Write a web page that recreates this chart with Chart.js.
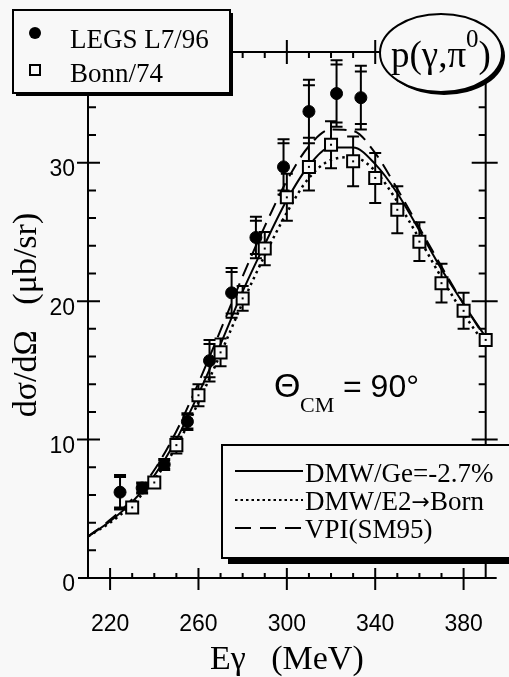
<!DOCTYPE html>
<html>
<head>
<meta charset="utf-8">
<script src="https://cdn.jsdelivr.net/npm/chart.js@4.4.1/dist/chart.umd.min.js"></script>
<style>
  html, body { margin: 0; padding: 0; background: #f8f8f8; }
  canvas { display: block; }
</style>
</head>
<body>
<canvas id="myChart" width="509" height="677"></canvas>
<script>
// data
const legsE = [224.5, 234.5, 244.5, 255, 265, 275, 286, 298.5, 310, 322.5, 333.5];
const legsY = [6.2, 6.5, 8.2, 11.3, 15.7, 20.6, 24.6, 29.7, 33.7, 35.0, 34.7];
const legsErrTot = [1.25, 0.4, 0.4, 0.6, 1.5, 1.8, 1.5, 2.0, 2.3, 2.4, 2.3];
const legsErrStat = [1.1, 0.3, 0.3, 0.5, 1.2, 1.5, 1.2, 1.7, 1.9, 2.1, 1.9];

const bonnE = [230, 240, 250, 260, 270, 280, 290, 300, 310, 320, 330, 340, 350, 360, 370, 380, 390];
const bonnY = [5.1, 6.9, 9.6, 13.2, 16.3, 20.2, 23.8, 27.5, 29.7, 31.3, 30.1, 28.9, 26.6, 24.3, 21.3, 19.3, 17.2];
const bonnErr = [0.3, 0.3, 0.6, 0.8, 1.0, 0.9, 1.2, 1.7, 1.7, 1.7, 1.8, 1.8, 1.7, 1.4, 1.4, 1.3, 0.4];

const curveE = [210, 220, 230, 240, 250, 260, 270, 280, 290, 300, 310, 320, 330, 340, 350, 360, 370, 380, 390];
const dmwGe = [3.0, 4.1, 5.5, 7.4, 10.0, 13.3, 16.9, 20.7, 24.1, 27.3, 29.8, 31.1, 31.1, 29.9, 27.8, 25.1, 22.3, 19.8, 17.4];
const dmwBorn = [3.0, 4.0, 5.3, 7.1, 9.5, 12.7, 16.2, 19.9, 23.3, 26.4, 28.9, 30.2, 30.4, 29.4, 27.2, 24.5, 21.7, 19.1, 16.8];
const vpi = [3.0, 4.2, 5.7, 7.8, 10.6, 14.1, 17.9, 21.8, 25.4, 28.7, 31.2, 32.4, 32.3, 30.7, 28.1, 25.3, 22.5, 19.8, 17.3];

const xTicks = [220, 260, 300, 340, 380];
const yTicks = [0, 10, 20, 30];

const BG = '#f8f8f8';
const SERIF = '"Liberation Serif", "DejaVu Serif", serif';
const SANS = '"Liberation Sans", Arial, sans-serif';

const pts = (xs, ys) => xs.map((v, i) => ({ x: v, y: ys[i] }));

// axes box with inner/outer ticks, error bars
const frame = {
    id: 'frame',
    beforeDatasetsDraw(chart) {
        const { ctx, chartArea: a, scales: { x, y } } = chart;
        ctx.save();
        ctx.strokeStyle = '#000';
        ctx.lineWidth = 2;
        ctx.beginPath();
        ctx.moveTo(a.left - 10, a.bottom); ctx.lineTo(a.right + 11, a.bottom);
        ctx.moveTo(a.left, a.bottom); ctx.lineTo(a.left, a.top);
        ctx.lineTo(a.right, a.top); ctx.lineTo(a.right, a.bottom);
        for (let v = 220; v <= 380; v += 10) {
            const px = x.getPixelForValue(v);
            if ((v - 220) % 40 === 0) {
                ctx.moveTo(px, a.bottom - 10); ctx.lineTo(px, a.bottom + 12);
                ctx.moveTo(px, a.top - 12); ctx.lineTo(px, a.top + 12);
            } else {
                ctx.moveTo(px, a.bottom - 5); ctx.lineTo(px, a.bottom);
                ctx.moveTo(px, a.top); ctx.lineTo(px, a.top + 6);
            }
        }
        for (let v = 2; v <= 36; v += 2) {
            const py = y.getPixelForValue(v);
            if (v % 10 === 0) {
                ctx.moveTo(a.left - 11, py); ctx.lineTo(a.left + 12, py);
                ctx.moveTo(a.right - 14, py); ctx.lineTo(a.right + 12, py);
            } else {
                ctx.moveTo(a.left, py); ctx.lineTo(a.left + 8, py);
                ctx.moveTo(a.right - 7, py); ctx.lineTo(a.right, py);
            }
        }
        ctx.stroke();

        ctx.beginPath();
        legsE.forEach((e, i) => {
            const px = x.getPixelForValue(e);
            const hi = y.getPixelForValue(legsY[i] + legsErrTot[i]);
            const lo = y.getPixelForValue(legsY[i] - legsErrTot[i]);
            ctx.moveTo(px, hi); ctx.lineTo(px, lo);
            ctx.moveTo(px - 6, hi); ctx.lineTo(px + 6, hi);
            ctx.moveTo(px - 6, lo); ctx.lineTo(px + 6, lo);
            const shi = y.getPixelForValue(legsY[i] + legsErrStat[i]);
            const slo = y.getPixelForValue(legsY[i] - legsErrStat[i]);
            ctx.moveTo(px - 6, shi); ctx.lineTo(px + 6, shi);
            ctx.moveTo(px - 6, slo); ctx.lineTo(px + 6, slo);
        });
        bonnE.forEach((e, i) => {
            const px = x.getPixelForValue(e);
            const hi = y.getPixelForValue(bonnY[i] + bonnErr[i]);
            const lo = y.getPixelForValue(bonnY[i] - bonnErr[i]);
            ctx.moveTo(px, hi); ctx.lineTo(px, lo);
            ctx.moveTo(px - 6, hi); ctx.lineTo(px + 6, hi);
            ctx.moveTo(px - 6, lo); ctx.lineTo(px + 6, lo);
        });
        ctx.stroke();
        ctx.restore();
    },
    afterDatasetsDraw(chart) {
        const { ctx, scales: { x, y } } = chart;
        ctx.save();
        ctx.fillStyle = '#000';
        bonnE.forEach((e, i) => {
            const px = x.getPixelForValue(e), py = y.getPixelForValue(bonnY[i]);
            ctx.fillRect(px - 1, py - 1, 2, 2);
        });
        ctx.restore();
    }
};

function shadowBox(ctx, x, y, w, h, off) {
    ctx.fillStyle = '#000';
    ctx.fillRect(x + off, y + off, w, h);
    ctx.fillStyle = BG;
    ctx.fillRect(x, y, w, h);
    ctx.lineWidth = 2;
    ctx.strokeStyle = '#000';
    ctx.strokeRect(x, y, w, h);
}

// legends, reaction label, angle annotation, y title
const labels = {
    id: 'labels',
    afterDraw(chart) {
        const ctx = chart.ctx;
        ctx.save();
        ctx.textBaseline = 'alphabetic';

        // y axis title
        ctx.save();
        ctx.translate(27, 315);
        ctx.rotate(-Math.PI / 2);
        ctx.textAlign = 'center';
        ctx.textBaseline = 'middle';
        ctx.fillStyle = '#000';
        ctx.font = '34px ' + SERIF;
        ctx.fillText('dσ/dΩ   (μb/sr)', 0, 0);
        ctx.restore();

        // top-left legend
        shadowBox(ctx, 13, 10, 217, 83, 3);
        ctx.fillStyle = '#000';
        ctx.beginPath(); ctx.arc(35, 33, 6, 0, Math.PI * 2); ctx.fill();
        ctx.lineWidth = 2;
        ctx.strokeRect(30, 65, 10, 10);
        ctx.font = '27px ' + SERIF;
        ctx.fillText('LEGS L7/96', 70, 48);
        ctx.fillText('Bonn/74', 70, 82);

        // reaction ellipse
        ctx.fillStyle = '#000';
        ctx.beginPath(); ctx.ellipse(444, 56, 61, 39, 0, 0, Math.PI * 2); ctx.fill();
        ctx.fillStyle = BG;
        ctx.beginPath(); ctx.ellipse(441, 53, 61, 39, 0, 0, Math.PI * 2); ctx.fill();
        ctx.lineWidth = 2; ctx.stroke();
        ctx.fillStyle = '#000';
        ctx.font = '37px ' + SERIF;
        let tx = 391;
        ctx.fillText('p(γ,π', tx, 67);
        tx += ctx.measureText('p(γ,π').width;
        ctx.font = '25px ' + SERIF;
        ctx.fillText('0', tx, 47);
        tx += ctx.measureText('0').width;
        ctx.font = '37px ' + SERIF;
        ctx.fillText(')', tx, 67);

        // theta annotation
        ctx.font = '34px ' + SANS;
        ctx.fillText('Θ', 274, 397);
        ctx.font = '22px ' + SERIF;
        ctx.fillText('CM', 300, 412);
        ctx.font = '32px ' + SANS;
        ctx.fillText('= 90°', 343, 397);

        // lower legend
        shadowBox(ctx, 222, 445, 300, 113, 6);
        ctx.strokeStyle = '#000';
        ctx.lineWidth = 2;
        ctx.beginPath(); ctx.moveTo(235, 471); ctx.lineTo(303, 471); ctx.stroke();
        ctx.setLineDash([2.5, 3]);
        ctx.beginPath(); ctx.moveTo(235, 500); ctx.lineTo(303, 500); ctx.stroke();
        ctx.setLineDash([16, 9]);
        ctx.beginPath(); ctx.moveTo(235, 528); ctx.lineTo(303, 528); ctx.stroke();
        ctx.setLineDash([]);
        ctx.fillStyle = '#000';
        ctx.font = '27px ' + SERIF;
        ctx.fillText('DMW/Ge=-2.7%', 305, 482);
        let lx = 305;
        ctx.fillText('DMW/E2', lx, 510);
        lx += ctx.measureText('DMW/E2').width;
        ctx.font = '22px "DejaVu Sans", sans-serif';
        ctx.fillText('→', lx, 509);
        lx += ctx.measureText('→').width;
        ctx.font = '27px ' + SERIF;
        ctx.fillText('Born', lx, 510);
        ctx.fillText('VPI(SM95)', 305, 538);
        ctx.restore();
    }
};

const ctx = document.getElementById('myChart').getContext('2d');
const myChart = new Chart(ctx, {
    type: 'scatter',
    data: {
        datasets: [
            {
                label: 'LEGS L7/96',
                data: pts(legsE, legsY),
                pointStyle: 'circle',
                pointRadius: 6,
                backgroundColor: '#000',
                borderColor: '#000',
                borderWidth: 1,
                clip: false
            },
            {
                label: 'Bonn/74',
                data: pts(bonnE, bonnY),
                pointStyle: 'rect',
                pointRadius: 8.5,
                backgroundColor: BG,
                borderColor: '#000',
                borderWidth: 2,
                clip: false
            },
            {
                label: 'DMW/Ge=-2.7%',
                data: pts(curveE, dmwGe),
                showLine: true,
                pointRadius: 0,
                borderColor: '#000',
                borderWidth: 2,
                cubicInterpolationMode: 'monotone',
                clip: false
            },
            {
                label: 'DMW/E2→Born',
                data: pts(curveE, dmwBorn),
                showLine: true,
                pointRadius: 0,
                borderColor: '#000',
                borderWidth: 2.5,
                borderDash: [2.5, 4],
                cubicInterpolationMode: 'monotone',
                clip: false
            },
            {
                label: 'VPI(SM95)',
                data: pts(curveE, vpi),
                showLine: true,
                pointRadius: 0,
                borderColor: '#000',
                borderWidth: 2,
                borderDash: [14, 8],
                cubicInterpolationMode: 'monotone',
                clip: false
            }
        ]
    },
    options: {
        responsive: false,
        animation: false,
        devicePixelRatio: 1,
        layout: { padding: { top: 52, right: 22, left: 0, bottom: 0 } },
        plugins: { legend: { display: false }, tooltip: { enabled: false } },
        scales: {
            x: {
                type: 'linear',
                min: 210,
                max: 390,
                afterBuildTicks: s => { s.ticks = xTicks.map(v => ({ value: v })); },
                afterFit: s => { s.height = 99; },
                grid: { display: false },
                border: { display: false },
                ticks: { color: '#000', font: { family: SANS, size: 23 }, padding: 25, maxRotation: 0 },
                title: {
                    display: true,
                    text: 'Eγ   (MeV)',
                    color: '#000',
                    font: { family: SERIF, size: 34, lineHeight: 1 },
                    padding: 0
                }
            },
            y: {
                min: 0,
                max: 38,
                afterBuildTicks: s => { s.ticks = yTicks.map(v => ({ value: v })); },
                afterFit: s => { s.width = 88; },
                grid: { display: false },
                border: { display: false },
                ticks: { color: '#000', font: { family: SANS, size: 23 }, padding: 5, labelOffset: 7 }
            }
        }
    },
    plugins: [frame, labels]
});
</script>
</body>
</html>
